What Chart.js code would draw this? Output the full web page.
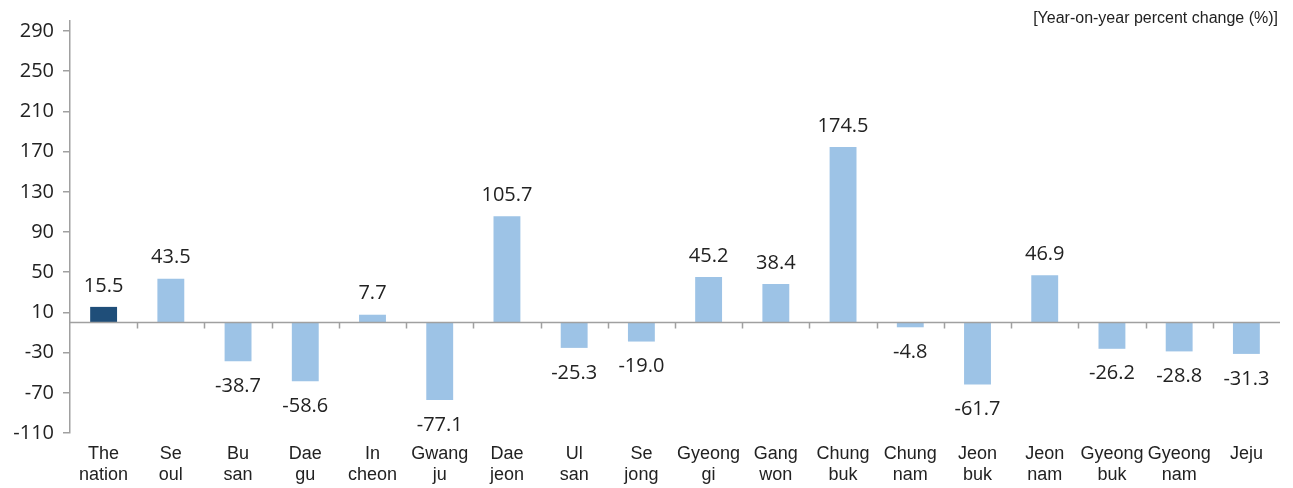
<!DOCTYPE html>
<html>
<head>
<meta charset="utf-8">
<script src="https://cdn.jsdelivr.net/npm/chart.js@4/dist/chart.umd.min.js"></script>
<style>
  body { margin: 0; background: #fff; }
  #wrap { width: 1293px; height: 488px; }
</style>
</head>
<body>
<div id="wrap"><canvas id="myChart" width="1293" height="488"></canvas></div>
<script>
// regions (two-line labels as in the original)
const regions = [
  ['The', 'nation'], ['Se', 'oul'], ['Bu', 'san'], ['Dae', 'gu'], ['In', 'cheon'],
  ['Gwang', 'ju'], ['Dae', 'jeon'], ['Ul', 'san'], ['Se', 'jong'], ['Gyeong', 'gi'],
  ['Gang', 'won'], ['Chung', 'buk'], ['Chung', 'nam'], ['Jeon', 'buk'], ['Jeon', 'nam'],
  ['Gyeong', 'buk'], ['Gyeong', 'nam'], ['Jeju']
];
const changePct = [15.5, 43.5, -38.7, -58.6, 7.7, -77.1, 105.7, -25.3, -19.0,
  45.2, 38.4, 174.5, -4.8, -61.7, 46.9, -26.2, -28.8, -31.3];
const yTicks = [-110, -70, -30, 10, 50, 90, 130, 170, 210, 250, 290];
const unitLabel = '[Year-on-year percent change (%)]';

const axisGrey = '#a0a0a0';
const barColors = changePct.map((v, i) => i === 0 ? '#1f4e79' : '#9dc3e6');

// zero line with little ticks between categories, values above/below bars, unit text
const extras = {
  id: 'extras',
  afterDatasetsDraw: function(chart) {
    const ctx = chart.ctx;
    const x = chart.scales.x, y = chart.scales.y;
    const area = chart.chartArea;
    const y0 = Math.round(y.getPixelForValue(0)) + 0.5;
    ctx.save();
    ctx.strokeStyle = axisGrey;
    ctx.lineWidth = 1.5;
    ctx.beginPath();
    ctx.moveTo(area.left, y0);
    ctx.lineTo(area.right, y0);
    const half = (x.getPixelForValue(1) - x.getPixelForValue(0)) / 2;
    for (let i = 1; i < regions.length; i++) {
      const px = Math.round(x.getPixelForValue(i) - half) + 0.5;
      ctx.moveTo(px, y0);
      ctx.lineTo(px, y0 + 6);
    }
    ctx.stroke();

    ctx.fillStyle = '#222';
    ctx.font = '20px "Open Sans"';
    ctx.textAlign = 'center';
    ctx.textBaseline = 'middle';
    const meta = chart.getDatasetMeta(0);
    meta.data.forEach(function(bar, i) {
      const v = changePct[i];
      const ty = v >= 0 ? bar.y - 21 : bar.y + 25;
      ctx.fillText(v.toFixed(1), bar.x, ty);
    });

    ctx.font = '16px "Liberation Sans"';
    ctx.textAlign = 'right';
    ctx.fillText(unitLabel, 1278, 19);
    ctx.restore();
  }
};

const ctx = document.getElementById('myChart').getContext('2d');
const myChart = new Chart(ctx, {
  type: 'bar',
  data: {
    labels: regions,
    datasets: [{
      data: changePct,
      backgroundColor: barColors,
      borderWidth: 0,
      barPercentage: 0.4,
      categoryPercentage: 1.0
    }]
  },
  options: {
    responsive: false,
    animation: false,
    layout: { padding: { top: 16, right: 13, left: 0, bottom: 0 } },
    plugins: {
      legend: { display: false },
      tooltip: { enabled: false }
    },
    scales: {
      x: {
        grid: { display: false },
        border: { display: false },
        ticks: {
          color: '#222',
          font: { family: '"Liberation Sans"', size: 18, lineHeight: 1.15 },
          padding: 3,
          maxRotation: 0,
          autoSkip: false
        },
        afterFit: function(scale) { scale.height = 55; }
      },
      y: {
        min: -110,
        max: 300,
        afterBuildTicks: function(scale) {
          scale.ticks = yTicks.map(v => ({ value: v }));
        },
        afterFit: function(scale) { scale.width = 70; },
        grid: { drawOnChartArea: false, color: axisGrey, tickLength: 7, lineWidth: 1.5 },
        border: { color: axisGrey, width: 1.5 },
        ticks: {
          color: '#222',
          font: { family: '"Open Sans"', size: 20 },
          padding: 9
        }
      }
    }
  },
  plugins: [extras]
});
</script>
</body>
</html>
